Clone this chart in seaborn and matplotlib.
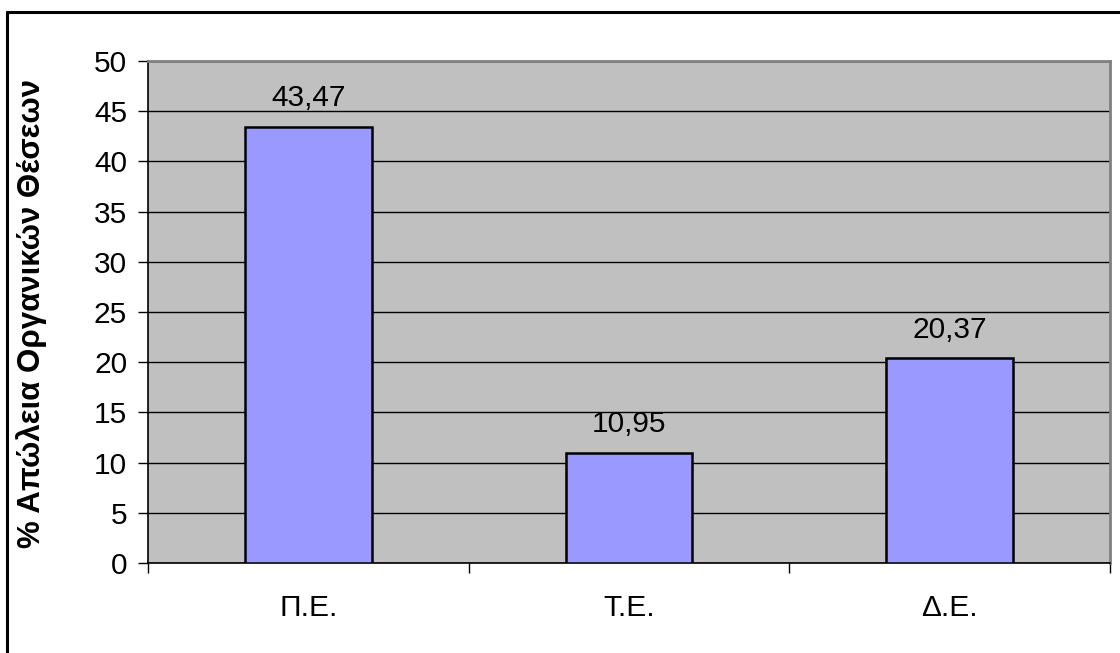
import matplotlib
matplotlib.use("Agg")
import matplotlib.pyplot as plt
from matplotlib.lines import Line2D
import seaborn as sns
import pandas as pd

categories = ["Π.Ε.", "Τ.Ε.", "Δ.Ε."]
values = [43.47, 10.95, 20.37]
value_labels = ["43,47", "10,95", "20,37"]
y_ticks = [0, 5, 10, 15, 20, 25, 30, 35, 40, 45, 50]
y_label = "% Απώλεια Οργανικών Θέσεων"

sns.set_theme(style="white")
plt.rcParams["font.family"] = ["Liberation Sans", "DejaVu Sans"]
plt.rcParams["text.color"] = "black"
plt.rcParams["xtick.color"] = "black"
plt.rcParams["ytick.color"] = "black"

W, H = 1120, 653
fig = plt.figure(figsize=(W / 100, H / 100), dpi=100)
fig.patch.set_facecolor("white")

# chart frame (left and top edges)
fig.add_artist(Line2D([7 / W, 7 / W], [0, 1 - 12 / H], transform=fig.transFigure,
                      color="black", lw=2.2))
fig.add_artist(Line2D([7 / W, 1], [1 - 12 / H, 1 - 12 / H], transform=fig.transFigure,
                      color="black", lw=2.2))

left, right, top, bottom = 148, 1110, 61, 563
ax = fig.add_axes([left / W, 1 - bottom / H, (right - left) / W, (bottom - top) / H])
ax.set_facecolor("#C0C0C0")

df = pd.DataFrame({"cat": categories, "val": values})
sns.barplot(data=df, x="cat", y="val", order=categories, color="#9999FF",
            saturation=1, width=0.395, edgecolor="black", linewidth=1.8, ax=ax,
            zorder=3)

ax.set_ylim(0, 50)
ax.set_xlim(-0.5, len(categories) - 0.5)
ax.set_yticks(y_ticks)
ax.yaxis.grid(True, color="black", lw=1.0, zorder=0)
ax.set_axisbelow(True)

for i, (v, lab) in enumerate(zip(values, value_labels)):
    ax.annotate(lab, (i, v), xytext=(0, 15), textcoords="offset points",
                ha="center", va="baseline", fontsize=21.5, color="black", zorder=5)

ax.tick_params(axis="y", which="major", direction="out", length=7, width=1,
               color="black", labelcolor="black", labelsize=21.5, pad=8, left=True)
ax.set_xticks(range(len(categories)))
ax.set_xticklabels(categories)
ax.set_xticks([-0.5 + k for k in range(len(categories) + 1)], minor=True)
ax.tick_params(axis="x", which="major", length=0, labelsize=21.5, pad=22,
               labelcolor="black")
ax.tick_params(axis="x", which="minor", direction="out", length=7, width=1,
               color="black", bottom=True)

ax.set_xlabel("")
ax.set_ylabel("")
fig.text(32 / W, 1 - 314 / H, y_label, rotation=90, ha="center", va="center",
         fontsize=22.5, fontweight="bold", color="black")

for side in ["left", "bottom"]:
    ax.spines[side].set_color("black")
    ax.spines[side].set_linewidth(1.2)
for side in ["top", "right"]:
    ax.spines[side].set_color("#808080")
    ax.spines[side].set_linewidth(2)
    ax.spines[side].set_visible(True)

fig.savefig("out.png", dpi=100, facecolor="white")
